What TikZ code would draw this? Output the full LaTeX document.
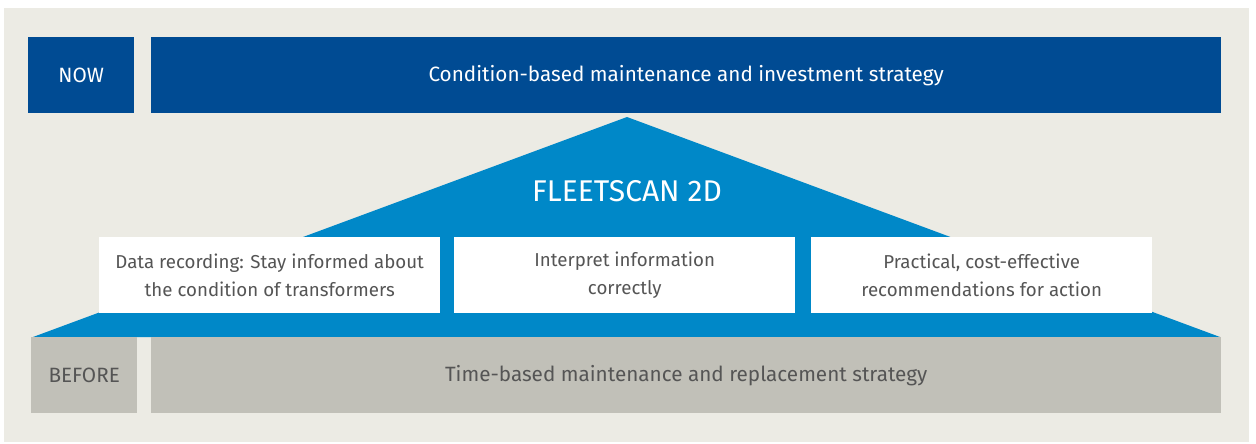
\documentclass[tikz,border=0pt]{standalone}
\usepackage{fontspec}
\setmainfont{Fira Sans}
\definecolor{nowblue}{HTML}{004B93}
\definecolor{scanblue}{HTML}{0088C8}
\definecolor{stone}{HTML}{C1C0B8}
\definecolor{paper}{HTML}{ECEBE4}
\definecolor{ink}{HTML}{555555}

\begin{document}
\begin{tikzpicture}[x=1pt,y=-1pt,
    bar/.style={anchor=north west,inner sep=0pt,minimum height=76pt},
    nowbar/.style={bar,fill=nowblue,text=white,font=\fontsize{20.7}{25}\selectfont},
    oldbar/.style={bar,fill=stone,text=ink,font=\fontsize{20.7}{25}\selectfont},
    stepbox/.style={bar,fill=white,text=ink,minimum width=341pt,align=center,
        font=\fontsize{18.7}{28}\selectfont}]
    \useasboundingbox (0,0) rectangle (1256,444);
    \fill[paper](4,8) rectangle (1249,442);

    % top row
    \node[nowbar,minimum width=106pt](now) at (28,37){NOW};
    \node[nowbar,minimum width=1070pt](nowstrat) at (151,37){Condition-based maintenance and investment strategy};

    % roof
    \fill[scanblue](627,117)--(1220,337)--(33,337)--cycle;
    \node[text=white,font=\fontsize{30}{36}\selectfont](scan) at (627,191){FLEETSCAN 2D};

    % three steps
    \node[stepbox](rec) at (99,237){Data recording: Stay informed about\\the condition of transformers};
    \node[stepbox](interp) at (454,237){Interpret information\\correctly};
    \node[stepbox](act) at (811,237){Practical, cost-effective\\recommendations for action};

    % bottom row
    \node[oldbar,minimum width=106pt](before) at (31,337){BEFORE};
    \node[oldbar,minimum width=1070pt](oldstrat) at (151,337){Time-based maintenance and replacement strategy};
\end{tikzpicture}
\end{document}
